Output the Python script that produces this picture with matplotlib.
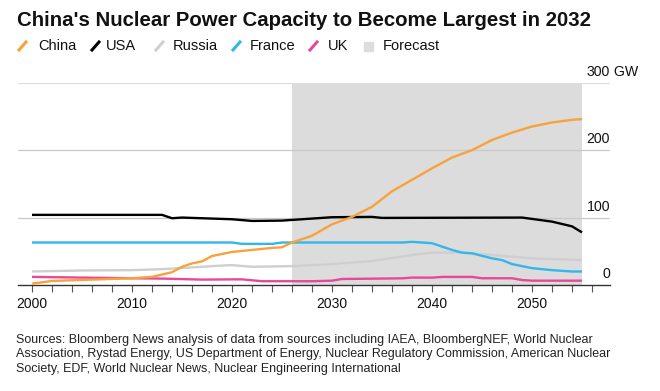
import matplotlib
matplotlib.use("Agg")
import matplotlib.pyplot as plt
from matplotlib.lines import Line2D
from matplotlib.patches import Rectangle

plt.rcParams['font.family'] = ['Liberation Sans', 'DejaVu Sans']

# values (GW)
china_years = [2000, 2002, 2010, 2012, 2014, 2015, 2016, 2017, 2018, 2019, 2020, 2022, 2024, 2025,
               2026, 2028, 2030, 2032, 2034, 2036, 2038, 2040, 2042, 2044, 2046, 2048, 2050, 2052, 2054, 2055]
china = [2, 6, 10, 12, 19, 27, 32, 35, 43, 46, 49, 52, 55, 56,
         63, 73, 90, 101, 116, 139, 156, 173, 189, 200, 215, 226, 235, 241, 245, 246]

usa_years = [2000, 2013, 2014, 2015, 2020, 2022, 2025, 2030, 2034, 2035, 2049, 2050, 2052, 2054, 2055]
usa = [104, 104, 99, 100, 97.5, 95, 95.5, 100.5, 101, 99.5, 100, 98, 94, 87, 78]

russia_years = [2000, 2005, 2010, 2013, 2016, 2018, 2020, 2022, 2026, 2030, 2034, 2038, 2040, 2043,
                2046, 2050, 2055]
russia = [20, 21.5, 22, 23.5, 26, 28, 29.5, 27, 28, 31, 35.5, 44.5, 48, 48, 44.5, 39.5, 37]

france_years = [2000, 2020, 2021, 2024, 2025, 2037, 2038, 2040, 2042, 2043, 2044, 2046, 2047, 2048,
                2050, 2051, 2052, 2054, 2055]
france = [63, 63, 61, 61, 63, 63, 64, 62, 52, 48, 47, 39.5, 37, 31, 25, 23.5, 22, 20, 20]

uk_years = [2000, 2005, 2010, 2013, 2017, 2021, 2023, 2028, 2030, 2031, 2037, 2038, 2040, 2041,
            2044, 2045, 2048, 2049, 2050, 2055]
uk = [12, 11, 10, 9.5, 8, 8.4, 5.6, 5.6, 6.4, 8.9, 9.9, 11, 10.9, 12, 12, 10, 10, 7.4, 6.4, 6.4]

forecast_start, forecast_end = 2026, 2055
y_ticks = [0, 100, 200, 300]
x_ticks = [2000, 2010, 2020, 2030, 2040, 2050]

colors = {'China': '#f7a23b', 'USA': '#000000', 'Russia': '#cfcfcf',
          'France': '#35b6ea', 'UK': '#e8489b'}
shade = '#dcdcdc'

W, H = 660, 391
fig = plt.figure(figsize=(6.6, 3.91), dpi=100)


def fx(px):
    return px / W


def fy(py):
    return 1 - py / H


ax = fig.add_axes([fx(18), fy(285), fx(610) - fx(18), fy(82.7) - fy(285)])
ax.set_xlim(1998.6, 2057.8)
ax.set_ylim(0, 300)

ax.axvspan(forecast_start, forecast_end, ymin=0, ymax=1, color=shade, lw=0, zorder=0)
for v in y_ticks[1:]:
    ax.axhline(v, color='#c8c8c8' if v < 300 else '#dddddd', lw=0.9, zorder=1)

series = [('Russia', russia_years, russia), ('UK', uk_years, uk), ('France', france_years, france),
          ('USA', usa_years, usa), ('China', china_years, china)]
for name, xs, ys in series:
    ax.plot(xs, ys, color=colors[name], lw=1.7, solid_capstyle='butt', zorder=3, clip_on=False)

for s in ['top', 'right', 'left']:
    ax.spines[s].set_visible(False)
ax.spines['bottom'].set_color('#333333')
ax.spines['bottom'].set_linewidth(1.0)
ax.set_yticks([])
ax.set_xticks(x_ticks)
ax.set_xticks(list(range(2000, 2057, 2)), minor=True)
ax.tick_params(axis='x', which='both', direction='out', length=5, width=0.8, color='#555555',
               labelsize=10, pad=4, labelcolor='#111111')

for v in y_ticks:
    ax.text(1.0, v + 16, f'{v}', transform=ax.get_yaxis_transform(), ha='right', va='center',
            fontsize=10.2, color='#111111')
ax.text(1.0, 316, ' GW', transform=ax.get_yaxis_transform(), ha='left', va='center',
        fontsize=10.2, color='#111111')

fig.text(fx(17), fy(20), "China's Nuclear Power Capacity to Become Largest in 2032",
         fontsize=14.7, fontweight='bold', ha='left', va='center', color='#111111')

legend_items = [('China', 18, 38), ('USA', 91, 106), ('Russia', 155, 173),
                ('France', 232, 250), ('UK', 309, 328)]
ly = 46
for name, mx, tx in legend_items:
    fig.add_artist(Line2D([fx(mx + 1), fx(mx + 8)], [fy(ly + 4), fy(ly - 4)],
                          color=colors[name], lw=2.2, transform=fig.transFigure))
    fig.text(fx(tx), fy(ly), name, fontsize=10.5, ha='left', va='center', color='#111111')
fig.add_artist(Rectangle((fx(364), fy(ly + 4.5)), fx(9), fy(0) - fy(9), color=shade,
                         transform=fig.transFigure))
fig.text(fx(383), fy(ly), 'Forecast', fontsize=10.5, ha='left', va='center', color='#111111')

fig.text(fx(16), fy(334),
         'Sources: Bloomberg News analysis of data from sources including IAEA, BloombergNEF, World Nuclear\n'
         'Association, Rystad Energy, US Department of Energy, Nuclear Regulatory Commission, American Nuclear\n'
         'Society, EDF, World Nuclear News, Nuclear Engineering International',
         fontsize=9.0, ha='left', va='top', color='#222222', linespacing=1.27)

fig.savefig('out.png', dpi=100)
